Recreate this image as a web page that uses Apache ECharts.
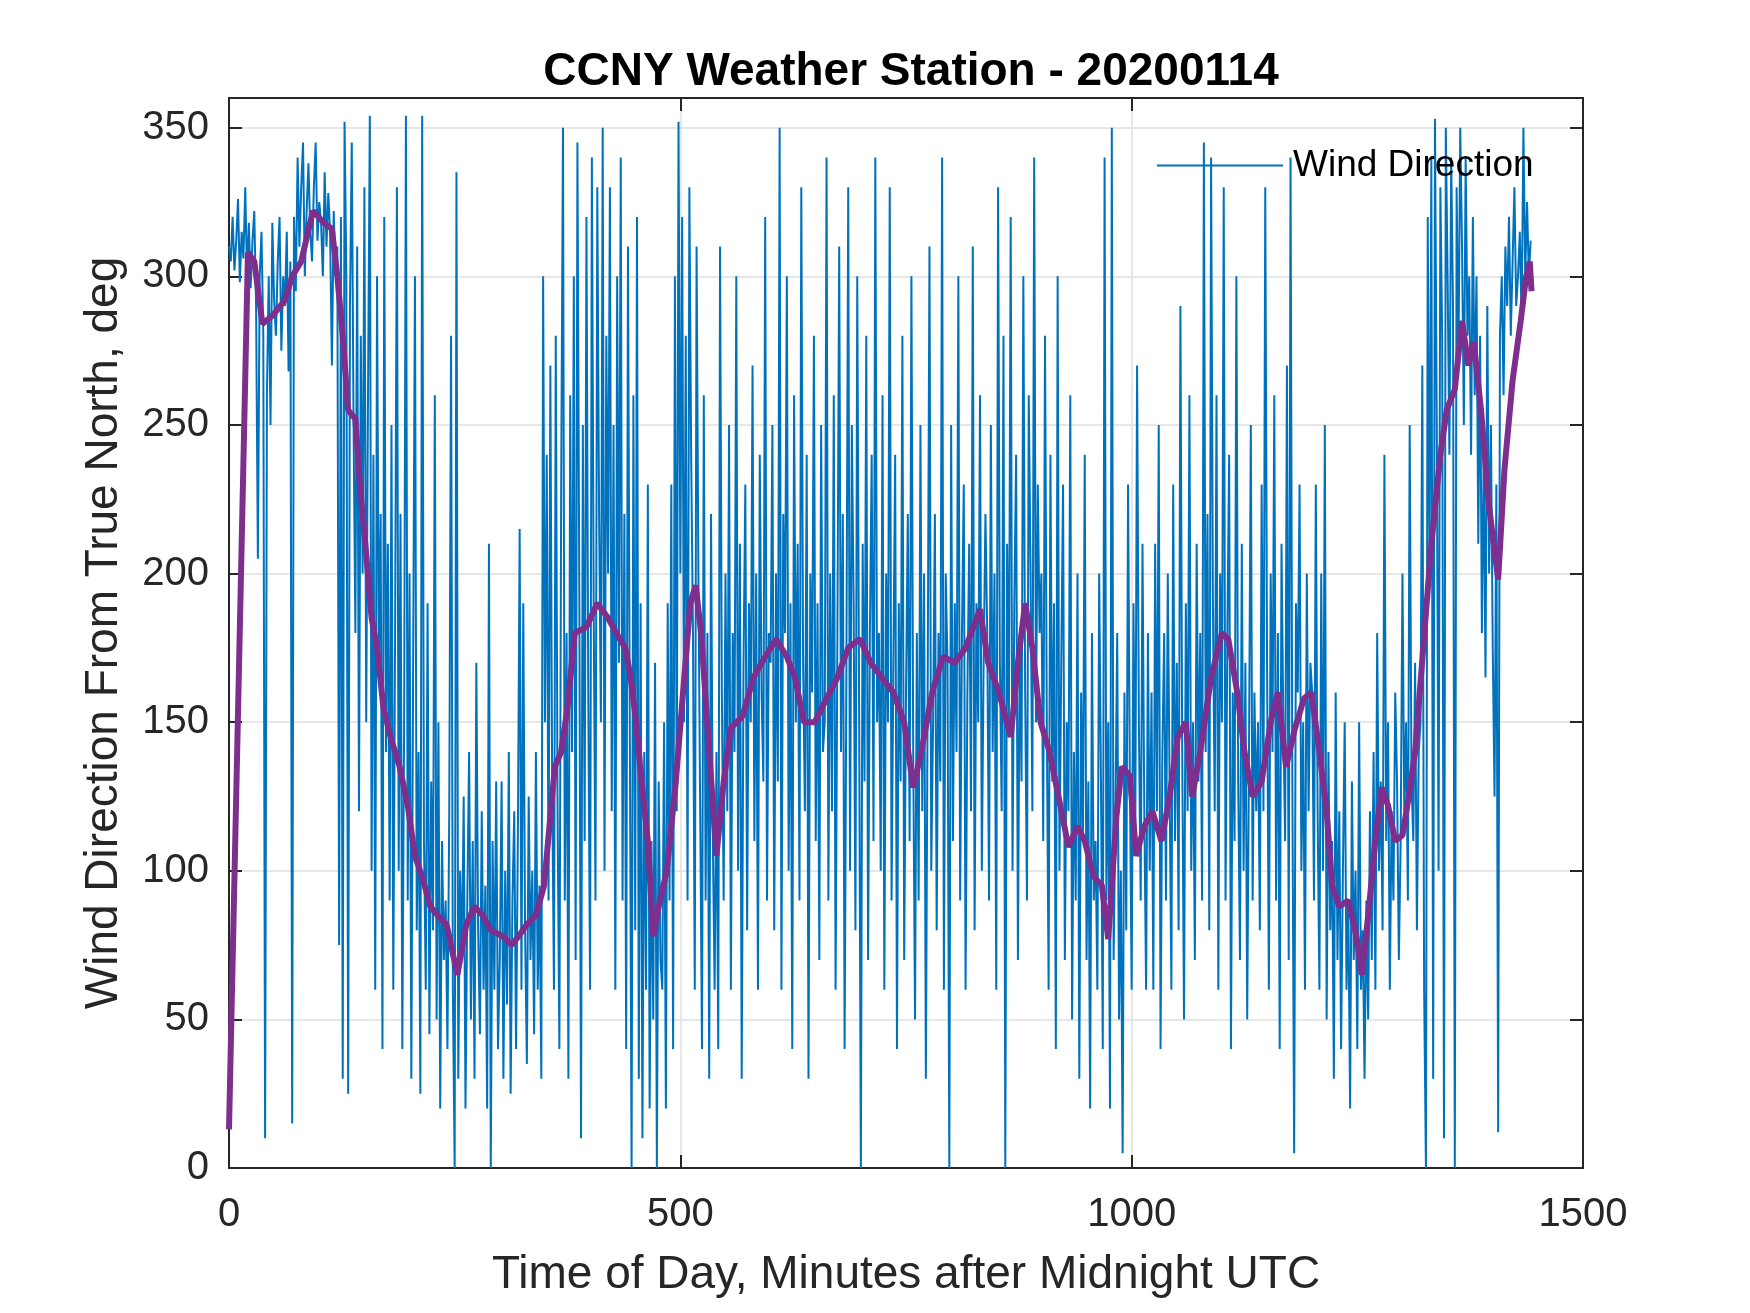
<!DOCTYPE html>
<html>
<head>
<meta charset="utf-8">
<title>CCNY Weather Station - 20200114</title>
<script src="https://cdn.jsdelivr.net/npm/echarts@6/dist/echarts.min.js"></script>
<style>
  html, body { margin: 0; padding: 0; background: #fff; }
  #chart { width: 1750px; height: 1313px; }
</style>
</head>
<body>
<div id="chart"></div>
<script>
// wind direction, one reading every 2 minutes (deg from true north)
var sampleStep = 2;
var windDir = [
  310,305,320,302,312,326,298,315,306,330,300,318,296,312,322,290,205,300,315,280,10,260,300,250,318,292,280,305,320,275,
  300,290,315,268,305,15,320,295,340,310,330,345,300,322,338,315,305,330,345,312,325,318,300,335,310,328,315,270,322,300,
  310,75,320,30,352,300,25,290,345,250,180,310,120,280,200,330,150,260,354,100,240,60,300,170,220,40,320,140,210,90,
  250,60,180,330,100,220,40,150,354,90,200,30,170,300,80,140,25,354,110,60,190,45,130,80,260,50,150,20,110,70,
  90,40,120,280,60,0,335,30,100,70,125,20,90,140,50,110,30,170,80,45,120,60,95,20,210,0,110,60,130,40,
  70,130,30,100,55,140,25,90,120,40,110,215,60,190,80,35,125,70,100,45,140,60,95,30,300,150,240,90,270,130,
  60,280,120,40,230,350,90,180,30,260,140,300,70,345,200,10,250,110,320,160,60,340,190,90,330,220,150,350,100,280,
  200,330,120,250,60,300,170,340,90,220,40,310,150,0,260,80,320,30,190,10,140,60,230,20,110,50,170,0,130,70,
  60,150,20,190,90,230,40,300,120,352,200,320,150,280,90,330,240,180,60,310,200,120,40,260,90,180,30,220,110,60,
  140,40,310,160,90,200,120,250,60,180,140,300,100,210,30,170,230,80,190,150,270,110,200,60,240,160,130,320,90,180,
  170,250,80,200,130,350,60,220,180,300,100,190,40,260,150,210,90,330,170,120,240,30,200,160,280,110,190,70,250,140,
  150,340,90,200,120,260,60,180,310,140,220,40,170,330,100,250,190,80,300,160,0,210,130,280,70,180,240,110,340,150,
  180,100,260,60,200,150,330,90,170,240,40,190,130,280,70,160,220,110,300,140,50,180,90,250,120,200,30,160,310,100,
  150,220,80,180,130,340,60,200,170,0,250,110,190,140,300,90,180,230,60,160,210,120,310,80,190,150,260,100,170,220,
  180,90,250,140,200,60,330,170,120,280,0,210,150,320,100,190,240,70,180,130,300,160,90,260,200,120,340,150,230,180,
  200,110,280,150,60,240,130,190,40,300,100,170,230,70,150,120,260,50,140,90,200,30,160,110,240,70,130,20,180,90,
  110,60,200,130,40,340,90,150,20,350,70,120,180,50,100,5,160,80,230,130,60,190,110,270,150,90,210,120,60,180,
  100,160,60,210,120,250,40,140,180,90,200,130,60,230,110,170,80,290,140,50,190,120,260,100,150,70,210,130,180,90,
  345,140,220,80,340,190,120,260,60,200,150,330,90,180,240,40,160,110,300,130,70,210,100,170,50,140,250,90,160,120,
  150,80,230,120,330,170,60,200,140,260,90,180,40,210,150,110,270,70,340,130,5,190,160,230,100,150,60,200,120,170,
  160,90,230,120,60,200,100,250,50,140,80,110,30,160,70,120,40,100,150,60,90,20,130,70,100,40,150,60,80,30,
  90,50,120,70,140,60,180,100,130,80,240,110,150,60,120,90,160,130,70,110,200,120,150,90,250,130,110,170,80,140,
  150,270,60,0,320,200,340,30,353,250,100,330,280,10,350,300,240,340,290,0,330,270,350,310,250,340,280,300,240,320,
  260,300,210,280,180,240,165,290,200,250,175,125,230,12,280,300,260,310,290,320,280,305,330,290,300,315,285,350,300,325,
  300,312
];

// smoothed direction (purple), read at these minutes
var trendMin = [
  0,21,28,37,49,62,70,80,93,105,114,120,126,132,140,145,151,158,164,171,
  179,189,198,206,214,223,231,241,253,263,272,281,290,303,313,321,330,340,349,355,
  361,368,375,383,396,408,420,429,439,445,451,457,464,470,476,485,495,503,511,517,
  523,532,540,548,556,569,581,594,606,618,627,637,649,662,674,686,699,711,723,736,
  748,758,767,779,791,804,816,832,841,853,866,874,882,890,899,909,919,930,940,948,
  958,967,974,983,989,998,1005,1014,1023,1033,1042,1051,1060,1067,1076,1088,1100,1107,1117,1125,
  1134,1144,1154,1162,1171,1181,1191,1199,1208,1216,1222,1230,1240,1249,1255,1263,1270,1277,1284,1292,
  1300,1307,1314,1323,1332,1342,1349,1358,1366,1373,1379,1387,1395,1401,1406,1413,1422,1431,1437,1441,
  1443
];
var trendDir = [
  13,308,305,284,287,292,300,305,322,318,316,300,280,255,252,230,210,185,175,155,
  145,135,122,105,98,88,85,82,65,82,88,85,80,78,75,78,82,85,95,115,
  135,140,155,180,182,190,185,180,175,165,150,130,110,78,88,100,130,160,190,196,
  180,140,105,130,148,152,165,172,178,172,165,150,150,158,165,175,178,170,165,160,
  150,128,140,160,172,170,175,188,170,160,145,170,190,175,150,140,125,108,115,110,
  98,95,77,118,135,132,105,115,120,110,125,145,150,125,140,165,180,178,160,140,
  125,130,150,160,135,148,158,160,140,120,95,88,90,78,65,88,110,128,122,110,
  112,125,140,175,210,240,255,262,285,270,278,255,225,210,198,235,265,285,300,305,
  295
];

var xTicks = { min: 0, max: 1500, step: 500 };
var yTicks = { min: 0, max: 360, step: 50 };

var windData = windDir.map(function (v, i) { return [i * sampleStep, v]; });
var trendData = trendMin.map(function (m, i) { return [m, trendDir[i]]; });

var axisColor = '#262626';
var font = '"Liberation Sans", Arial, Helvetica, sans-serif';

function frameAxis(pos, t) {
  return {
    type: 'value', position: pos, min: t.min, max: t.max, interval: t.step,
    axisLine: { show: true, onZero: false, lineStyle: { color: axisColor, width: 2 } },
    axisTick: { show: true, inside: true, length: 13, lineStyle: { color: axisColor, width: 2 } },
    axisLabel: { show: false },
    splitLine: { show: false }
  };
}

var chart = echarts.init(document.getElementById('chart'));

var option = {
  animation: false,
  backgroundColor: '#fff',
  title: {
    text: 'CCNY Weather Station - 20200114',
    left: 906, top: 44, textAlign: 'center',
    textStyle: { fontFamily: font, fontSize: 46, fontWeight: 'bold', color: '#000' }
  },
  legend: {
    data: [{ name: 'Wind Direction', icon: 'rect' }],
    left: 1152, top: 142,
    itemWidth: 126, itemHeight: 2, itemGap: 0,
    textStyle: { fontFamily: font, fontSize: 37, color: '#000', padding: [0, 0, 0, 5] }
  },
  grid: { left: 229, right: 167, top: 98, bottom: 145 },
  xAxis: [
    {
      type: 'value', position: 'bottom', min: xTicks.min, max: xTicks.max, interval: xTicks.step,
      name: 'Time of Day, Minutes after Midnight UTC',
      nameLocation: 'middle', nameGap: 84,
      nameTextStyle: { fontFamily: font, fontSize: 46, color: axisColor },
      axisLine: { show: true, onZero: false, lineStyle: { color: axisColor, width: 2 } },
      axisTick: { show: true, inside: true, length: 13, lineStyle: { color: axisColor, width: 2 } },
      axisLabel: { fontFamily: font, fontSize: 40, color: axisColor, margin: 27,
        formatter: function (v) { return String(v); } },
      splitLine: { show: true, lineStyle: { color: '#dfdfdf', width: 1.5 } }
    },
    frameAxis('top', xTicks)
  ],
  yAxis: [
    {
      type: 'value', position: 'left', min: yTicks.min, max: yTicks.max, interval: yTicks.step,
      name: 'Wind Direction From True North, deg',
      nameLocation: 'middle', nameGap: 102, nameRotate: 90,
      nameTextStyle: { fontFamily: font, fontSize: 46, color: axisColor },
      axisLine: { show: true, onZero: false, lineStyle: { color: axisColor, width: 2 } },
      axisTick: { show: true, inside: true, length: 13, lineStyle: { color: axisColor, width: 2 } },
      axisLabel: { fontFamily: font, fontSize: 40, color: axisColor, margin: 20, showMaxLabel: false },
      splitLine: { show: true, lineStyle: { color: '#dfdfdf', width: 1.5 } }
    },
    frameAxis('right', yTicks)
  ],
  series: [
    {
      name: 'Wind Direction', type: 'line', data: windData,
      symbol: 'none', showSymbol: false,
      lineStyle: { color: '#0072BD', width: 2 },
      itemStyle: { color: '#0072BD' },
      z: 2
    },
    {
      name: 'Trend', type: 'line', data: trendData,
      symbol: 'none', showSymbol: false,
      lineStyle: { color: '#7E2F8E', width: 6 },
      itemStyle: { color: '#7E2F8E' },
      z: 3
    }
  ]
};

chart.setOption(option);
</script>
</body>
</html>
